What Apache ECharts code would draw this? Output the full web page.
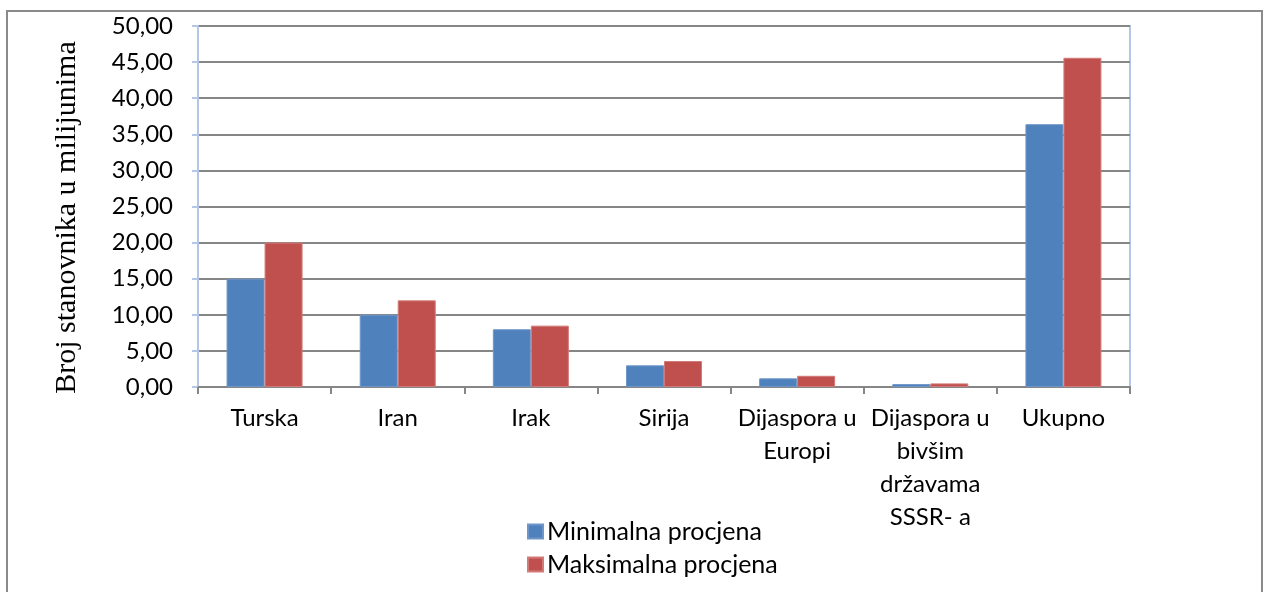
<!DOCTYPE html>
<html>
<head>
<meta charset="utf-8">
<script src="https://cdn.jsdelivr.net/npm/echarts@6/dist/echarts.min.js"></script>
<style>
html,body{margin:0;padding:0;background:#fff;}
#chart{width:1264px;height:592px;}
</style>
</head>
<body>
<div id="chart"></div>
<script>
var categories = ['Turska', 'Iran', 'Irak', 'Sirija', 'Dijaspora u\nEuropi', 'Dijaspora u\nbivšim\ndržavama\nSSSR- a', 'Ukupno'];
var minValues = [15.0, 10.0, 8.0, 3.0, 1.2, 0.4, 36.4];
var maxValues = [20.0, 12.0, 8.5, 3.6, 1.55, 0.5, 45.6];
var seriesNames = ['Minimalna procjena', 'Maksimalna procjena'];
var yAxisTitle = 'Broj stanovnika u milijunima';

var chart = echarts.init(document.getElementById('chart'));
var labelFont = 'Lato, "Open Sans", sans-serif';
chart.setOption({
  animation: false,
  backgroundColor: '#fff',
  graphic: [{
    type: 'rect',
    shape: {x: 7, y: 11, width: 1255, height: 600},
    style: {fill: 'none', stroke: '#8a8a8a', lineWidth: 2},
    silent: true
  }],
  grid: {
    left: 198, right: 134, top: 26, bottom: 205,
    show: true, borderColor: '#b4c7e7', borderWidth: 2, backgroundColor: 'transparent'
  },
  legend: {
    orient: 'vertical',
    left: 522, top: 514,
    itemWidth: 15, itemHeight: 14, itemGap: 8,
    icon: 'rect',
    textStyle: {fontFamily: labelFont, fontSize: 25, color: '#000', lineHeight: 24, padding: [0,0,0,-1]},
    data: seriesNames
  },
  xAxis: {
    type: 'category',
    data: categories,
    axisLine: {lineStyle: {color: '#868686', width: 2}},
    axisTick: {show: true, alignWithLabel: false, length: 7, lineStyle: {color: '#868686', width: 2}},
    axisLabel: {interval: 0, fontFamily: labelFont, fontSize: 24, color: '#000', lineHeight: 33, margin: 15}
  },
  yAxis: {
    type: 'value',
    min: 0, max: 50, interval: 5,
    name: yAxisTitle,
    nameLocation: 'middle',
    nameGap: 116,
    nameRotate: 90,
    nameTextStyle: {fontFamily: '"Liberation Serif", "Times New Roman", serif', fontSize: 30, color: '#000', padding: [0, 22, 0, 0]},
    axisLine: {show: true, lineStyle: {color: '#b4c7e7', width: 2}},
    axisTick: {show: true, length: 6, lineStyle: {color: '#b4c7e7', width: 2}},
    splitLine: {lineStyle: {color: '#868686', width: 2}},
    axisLabel: {
      fontFamily: labelFont, fontSize: 24, color: '#000', margin: 25,
      formatter: function (v) { return v.toFixed(2).replace('.', ','); }
    }
  },
  series: [
    {name: seriesNames[0], type: 'bar', data: minValues, barWidth: 38, barGap: '0%',
     itemStyle: {color: '#4f81bd', borderColor: '#6f96c8', borderWidth: 1}},
    {name: seriesNames[1], type: 'bar', data: maxValues, barWidth: 38, barGap: '0%',
     itemStyle: {color: '#c0504d', borderColor: '#d27a78', borderWidth: 1}}
  ]
});
</script>
</body>
</html>
